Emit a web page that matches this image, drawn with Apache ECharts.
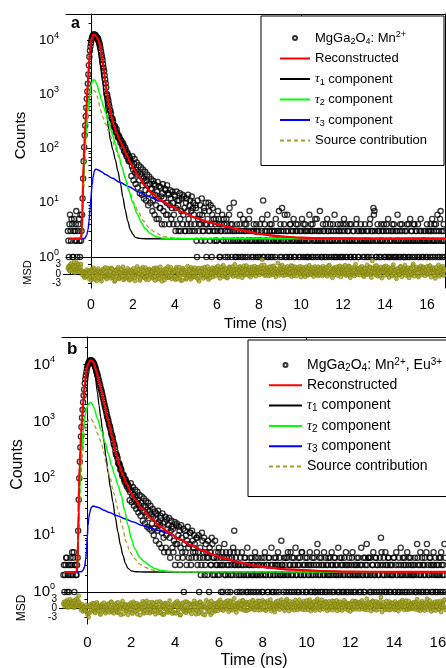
<!DOCTYPE html>
<html>
<head>
<meta charset="utf-8">
<script src="https://cdn.jsdelivr.net/npm/echarts@6/dist/echarts.min.js"></script>
<style>html,body{margin:0;padding:0;background:#fff;}#c{width:446px;height:668px;}</style>
</head>
<body>
<div id="c"></div>
<script>
// ---------------- DATA ----------------
// time channels of the decay histograms (ns)
const timeStartNs = -1.1;
const timeStepNs = 0.025;

const xTickLabels = [0, 2, 4, 6, 8, 10, 12, 14, 16];
const xTickMarks = [-1, 0, 1, 2, 3, 4, 5, 6, 7, 8, 9, 10, 11, 12, 13, 14, 15, 16];
const xTopTicks = [0, 10];
const yTickValues = [1, 10, 100, 1000, 10000];
const yMinorTicks = [2,3,4,5,6,7,8,9,20,30,40,50,60,70,80,90,200,300,400,500,600,700,800,900,2000,3000,4000,5000,6000,7000,8000,9000,20000];
const msdTicks = [-3, 0, 3];

const namesA = ['MgGa2O4: Mn2+', 'Reconstructed', 'τ1 component', 'τ2 component', 'τ3 component', 'Source contribution'];
const namesB = ['MgGa2O4: Mn2+, Eu3+', 'Reconstructed', 'τ1 component', 'τ2 component', 'τ3 component', 'Source contribution'];

// panel a: measured counts per channel (one row = 1 ns)
const countsA = [
  3,2,1,4,6,3,2,5,4,1,1,3,5,2,3,4,7,2,1,3,4,5,2,1,6,2,3,6,12,28,58,105,175,265,390,560,820,1120,1550,2300,
  3400,4870,6300,7520,8700,9960,10900,11640,12200,12580,12600,12390,12300,11960,11400,11080,10900,10560,10100,9240,8700,7950,7100,6160,5350,4790,4250,3570,3050,2680,2230,1860,1590,1320,1010,950,830,760,655,590,
  508,489,446,371,352,348,318,268,249,262,241,205,197,226,192,168,158,171,163,149,128,141,137,119,106,125,114,92,86,104,94,77,71,85,79,63,58,70,66,57,
  58,31,47,72,41,26,52,64,36,22,40,55,33,19,37,49,26,15,34,45,30,14,21,41,28,12,25,37,17,11,26,33,21,9,15,30,22,10,18,27,
  18,7,11,25,22,6,14,21,9,5,16,24,12,5,20,8,8,19,13,4,15,22,7,12,4,18,17,6,10,21,6,15,14,4,9,17,12,5,8,16,
  10,4,6,14,13,3,8,16,4,11,9,3,11,15,5,3,7,12,14,4,6,13,8,3,3,10,12,4,7,14,5,3,9,11,4,7,13,3,8,10,
  6,4,3,9,8,2,1,11,5,3,4,6,9,4,2,12,6,3,3,8,7,2,4,10,1,4,5,3,10,7,3,2,9,4,1,6,8,3,5,2,
  3,4,5,2,2,3,7,5,4,1,1,3,3,4,6,2,2,5,4,3,1,2,5,4,3,1,2,6,8,3,4,2,1,4,3,2,10,3,2,1,
  1,3,4,2,2,1,3,4,6,2,1,3,2,1,5,2,3,4,1,3,4,2,2,1,3,5,7,2,2,3,1,2,3,1,4,3,2,2,1,4,
  3,2,1,3,2,1,4,2,2,3,5,1,11,2,1,4,3,2,2,3,6,1,1,2,3,4,2,1,4,3,1,2,2,3,3,1,5,2,2,3,
  2,3,7,2,1,4,3,1,8,2,2,3,4,6,1,2,3,1,6,3,2,2,1,4,4,1,3,2,2,3,5,1,1,2,3,4,2,3,4,2,
  1,2,3,1,2,3,5,2,1,4,2,3,4,1,3,2,1,3,2,1,6,2,3,4,1,3,4,1,2,2,3,5,1,2,5,3,2,1,3,2,
  7,3,2,1,1,2,4,3,3,1,2,4,1,2,5,3,3,1,2,2,4,3,1,2,2,4,3,1,6,2,1,3,2,1,4,2,3,3,1,4,
  2,1,3,2,1,4,5,3,2,1,4,2,1,3,3,2,2,4,1,1,4,2,2,3,3,1,1,2,2,4,5,2,3,1,1,3,2,2,4,3,
  3,2,1,3,2,1,4,2,2,3,1,2,3,1,2,4,5,2,1,3,3,2,8,6,7,3,2,1,1,2,4,3,3,1,2,2,1,4,3,2,
  2,3,4,1,1,2,3,4,2,1,5,3,1,2,2,1,3,2,4,3,1,4,2,1,3,2,1,3,6,2,2,1,3,4,1,2,4,3,2,1,
  1,2,3,1,2,3,4,2,1,4,2,1,5,2,3,3,1,2,2,4,4,1,2,3,3,2,1,4,2,1,3,2,5,3,1,2,2,1,3,2,
  2,3,1,2,4,1,3,2,2,3,1,4,3,2,5,1,2,3,4,2,1,4,3,2,6,1,2,3,1,5,7,2,3,1,2,3,4,2,1,3,
  2
];
// panel a: weighted residuals (MSD), same channels
const msdA = [
  1.8,2.3,2.6,1.1,0.9,3.0,3.4,1.6,1.2,2.7,2.1,0.6,3.9,2.4,0.5,1.3,2.8,3.5,1.5,0.9,3.1,2.0,0.7,1.7,2.3,3.2,1.1,0.4,-0.4,0.6,0.8,-0.9,-1.2,0.5,0.3,-0.7,1.4,0.2,-0.6,1.0,
  -1.5,0.7,0.2,-1.0,-2.1,1.5,0.9,-0.3,-0.7,2.0,1.3,-1.4,-1.8,0.6,0.4,-2.2,-0.2,1.1,1.7,-0.5,-1.1,0.3,0.6,-1.7,-2.3,0.9,0.1,1.6,1.2,-0.8,-0.9,2.1,0.5,-1.2,-1.6,0.0,1.9,-0.6,-0.3,1.4,
  0.8,-0.5,-1.4,1.9,1.6,-1.1,-0.5,0.2,0.3,-2.4,-2.0,1.3,1.1,-0.1,-0.8,1.7,2.2,-1.6,-1.3,0.5,0.4,-0.3,1.5,-1.0,-0.6,2.3,-1.9,0.8,0.9,-1.5,0.2,1.0,-1.1,-0.7,1.8,0.4,-0.4,-2.0,0.7,1.2,
  -1.7,0.3,1.3,-0.9,-0.2,1.8,0.6,-1.3,-2.2,0.7,1.0,-0.4,2.4,0.1,-0.9,1.4,0.1,-2.1,-1.5,0.9,1.7,-0.6,-0.3,2.2,0.8,-1.1,-1.2,0.4,2.0,-1.8,-0.7,1.2,0.5,-0.5,-1.8,1.6,1.2,-0.2,-0.1,0.8,
  0.9,-1.3,-1.0,1.5,1.9,-0.7,-2.1,0.4,0.3,2.0,1.4,-1.6,-0.6,0.8,-1.4,-0.2,2.3,1.1,0.2,-2.3,-0.8,0.5,1.1,-1.0,-1.9,1.7,0.6,0.1,1.6,-1.2,-0.4,2.4,-1.2,-0.8,0.7,1.3,2.1,-0.5,-1.6,0.6,
  0.4,-1.1,1.2,0.7,-0.9,-1.8,1.8,2.2,-1.5,0.3,0.0,-0.6,2.2,1.0,-0.7,-2.1,0.9,0.4,-2.0,1.9,1.4,-0.3,-0.2,1.2,0.6,-1.7,-1.3,0.8,2.5,0.0,-0.5,1.5,1.0,-0.9,-1.7,2.1,0.3,-1.1,1.6,0.5,
  -0.8,1.3,2.0,-0.4,-1.1,0.8,0.5,-1.6,1.3,1.9,-2.3,0.2,0.8,-0.9,-0.3,1.7,1.9,0.6,-1.4,-0.2,0.2,2.2,1.1,-1.0,-0.6,0.9,2.4,-0.5,-1.8,1.4,0.7,-1.2,-0.1,0.3,1.5,2.0,-1.0,-0.3,0.4,1.1,
  1.7,0.8,-0.6,2.1,0.8,1.5,2.6,-0.2,-0.4,1.2,-1.4,0.9,1.5,2.3,1.1,-0.6,2.8,0.4,1.3,-0.9,0.1,1.9,1.4,-1.2,-1.3,0.7,0.6,2.0,2.3,-0.1,1.8,0.5,-0.2,1.6,2.4,-0.8,0.9,1.3,3.1,0.2,
  -0.5,1.6,1.6,0.2,-0.9,2.2,1.3,0.8,2.4,-0.3,0.5,1.9,-1.2,0.7,1.8,2.6,1.1,-0.4,-0.1,1.4,2.7,0.3,0.2,1.7,1.3,-0.6,2.2,1.0,-1.0,0.4,0.9,2.3,1.5,-0.2,0.4,1.6,2.5,0.1,-0.7,1.2,
  0.7,2.1,0.4,1.5,2.2,-0.3,1.2,0.6,1.9,2.8,4.6,0.1,0.8,1.7,2.9,-0.5,1.2,0.4,-0.4,1.9,2.0,0.8,-0.6,1.3,2.3,1.1,-0.4,0.6,1.5,2.5,0.7,-0.2,2.6,1.3,0.2,1.8,-0.9,0.9,1.6,0.3,
  3.5,1.0,0.2,-0.4,1.7,2.5,0.4,1.2,2.9,0.6,-0.5,1.4,1.3,2.2,-0.4,0.8,0.9,1.9,2.4,-0.2,0.7,1.5,-0.2,0.3,1.8,2.7,-0.8,0.9,2.5,1.1,0.4,-0.5,1.6,2.3,0.2,0.9,-0.6,1.7,2.1,0.5,
  0.3,1.6,2.5,0.1,-1.0,1.3,0.9,2.2,1.5,-0.3,0.1,1.8,-0.9,0.5,2.3,1.2,0.8,-0.4,-0.3,2.0,2.8,0.6,0.0,1.4,1.5,-0.2,2.1,0.9,-0.8,1.7,0.6,2.4,0.4,-0.1,1.7,1.0,-0.6,2.3,1.2,0.3,
  -0.4,1.9,1.6,0.4,0.8,-0.6,2.5,1.2,0.5,1.8,1.5,-0.3,0.1,2.2,-0.7,0.9,1.1,2.7,2.8,0.2,0.3,-0.4,1.0,1.6,-1.2,0.5,1.7,2.0,1.4,-0.2,0.3,1.8,2.3,0.7,-0.5,1.2,0.6,2.4,2.6,0.1,
  -0.9,1.2,1.4,0.3,1.7,2.3,-0.1,0.8,2.8,0.2,-0.5,1.5,1.2,-0.2,0.4,2.6,2.4,-0.4,-1.2,1.0,1.6,0.7,2.0,-0.3,0.9,1.4,-0.6,2.2,3.1,0.1,0.5,1.8,-0.2,1.3,1.7,0.4,-0.3,2.1,1.3,0.6,
  2.5,0.8,0.5,-0.6,-0.9,1.9,1.7,0.3,0.8,-0.2,2.9,1.4,-0.1,0.9,1.2,2.3,2.1,-0.2,-1.1,0.7,4.2,1.6,1.9,0.2,0.6,2.6,1.5,-0.4,2.7,1.1,-0.7,0.9,1.5,2.0,0.3,-0.6,2.2,0.8,-1.3,1.4,
  1.1,0.6,1.9,2.4,-0.4,0.9,2.6,1.2,0.1,-0.3,1.5,2.1,-1.1,0.8,0.7,1.7,1.3,-0.4,-0.6,2.3,3.0,0.9,0.2,1.4,1.2,-0.5,-1.5,1.6,1.7,0.4,0.9,-0.2,-0.3,2.4,2.4,1.0,-0.9,1.2,1.4,0.5,
  0.3,1.8,2.8,0.6,-0.5,1.5,1.3,0.2,2.0,-0.4,-1.2,1.3,0.8,1.9,1.6,-0.3,-0.1,2.7,3.2,0.4,-0.7,1.1,1.1,0.2,2.2,1.6,0.4,-0.6,-1.0,1.5,1.5,2.2,2.6,0.7,-0.3,1.0,1.0,2.3,1.9,0.6,
  -0.6,1.3,1.2,0.4,2.4,-0.2,0.1,1.7,0.9,2.6,2.7,0.3,-1.0,1.4,1.7,0.8,0.3,2.0,1.4,-0.5,-1.4,1.1,2.1,0.7,0.6,-0.3,2.9,1.5,-0.7,0.9,1.3,2.2,0.1,-0.2,2.5,0.9,-0.5,1.6,1.0,0.3,
  1.2
];
// panel a: fitted curves [time ns, counts]
const reconA = [[-1.05,2.17],[-0.6,2.17],[-0.47,2.2],[-0.44,3],[-0.41,7],[-0.38,22],[-0.35,55],[-0.32,110],[-0.27,280],[-0.21,650],[-0.15,1600],[-0.1,3300],[-0.05,6200],[0,8800],[0.06,11300],[0.12,12500],[0.18,12400],[0.26,11400],[0.37,9700],[0.45,7300],[0.52,5000],[0.6,3100],[0.68,1800],[0.76,1050],[0.86,620],[0.98,380],[1.1,260],[1.22,195],[1.38,140],[1.54,103],[1.7,76],[1.86,56],[2.05,41],[2.27,30.5],[2.55,21],[2.9,15],[3.3,11.3],[3.86,8.5],[4.4,6.6],[4.97,5.3],[5.5,4.5],[6.08,3.95],[6.6,3.5],[7.19,3.1],[8,2.65],[9,2.4],[10,2.27],[11,2.21],[12.5,2.18],[14,2.17],[17,2.17]];
const tau1A = [[-1.05,2.17],[-0.6,2.17],[-0.47,2.2],[-0.44,3],[-0.41,6.5],[-0.38,20],[-0.35,48],[-0.32,95],[-0.27,240],[-0.21,560],[-0.15,1350],[-0.1,2800],[-0.05,5300],[0,7600],[0.06,9600],[0.12,10500],[0.18,10300],[0.26,9000],[0.35,6300],[0.45,3300],[0.55,1700],[0.65,850],[0.75,420],[0.84,230],[0.92,145],[1.04,95],[1.16,62],[1.28,38],[1.4,23],[1.52,12.5],[1.63,7.4],[1.75,4.6],[1.87,3.2],[2,2.6],[2.11,2.3],[2.3,2.2],[2.6,2.17],[17,2.17]];
const tau2A = [[-1.05,2.17],[-0.6,2.17],[-0.47,2.2],[-0.44,2.8],[-0.41,5],[-0.38,12],[-0.35,28],[-0.3,75],[-0.24,190],[-0.16,460],[-0.08,900],[0,1400],[0.07,1750],[0.13,1850],[0.2,1780],[0.3,1450],[0.4,1050],[0.5,780],[0.6,590],[0.7,450],[0.82,320],[0.95,220],[1.05,165],[1.16,120],[1.3,80],[1.48,46],[1.62,29],[1.79,17],[2,10],[2.19,6.3],[2.4,4.3],[2.59,3.3],[2.8,2.75],[3.06,2.4],[3.35,2.25],[3.8,2.19],[4.5,2.17],[17,2.17]];
const tau3A = [[-1.05,2.17],[-0.5,2.17],[-0.3,2.2],[-0.2,2.55],[-0.14,3.2],[-0.09,4.6],[-0.04,8],[0,12.5],[0.05,21],[0.1,30],[0.15,37],[0.2,41],[0.26,41.5],[0.35,40],[0.5,37],[0.7,33],[1,28.5],[1.4,23.5],[1.79,19.9],[2.27,15.7],[2.74,13],[3.22,11],[3.9,8.2],[4.5,6.3],[5,5.2],[5.6,4.4],[6.1,3.85],[6.7,3.4],[7.3,3],[8,2.62],[9,2.38],[10,2.25],[11,2.2],[12.5,2.18],[14,2.17],[17,2.17]];
const sourceA = [[-1.05,2.17],[-0.6,2.17],[-0.47,2.2],[-0.44,2.6],[-0.41,4],[-0.38,8],[-0.35,18],[-0.3,50],[-0.24,130],[-0.16,330],[-0.08,650],[0,930],[0.08,1110],[0.16,1170],[0.24,1080],[0.33,830],[0.43,560],[0.55,390],[0.7,280],[0.85,205],[1,150],[1.15,105],[1.3,72],[1.5,42],[1.7,24],[1.87,15],[2.05,9.8],[2.27,6.6],[2.5,4.6],[2.75,3.5],[3.05,2.85],[3.38,2.45],[3.7,2.3],[4.1,2.22],[4.8,2.18],[17,2.17]];

// panel b: measured counts per channel (one row = 1 ns)
const countsB = [
  2,3,1,2,3,4,4,1,2,3,1,2,3,4,2,3,5,2,4,5,1,3,3,2,2,3,4,12,42,100,195,350,545,800,1160,1600,2180,2850,3650,4700,
  5560,6480,7420,8530,9480,10180,10750,11270,11500,11820,11950,11880,11650,11360,11150,10720,10250,9630,9050,8420,7750,7180,6750,6170,5580,5130,4720,4320,3880,3590,3320,2990,2690,2460,2210,1990,1790,1660,1510,1350,
  1205,1131,1048,926,847,806,733,648,589,563,514,447,398,389,349,296,266,263,241,222,187,178,183,168,141,149,139,118,109,116,113,95,86,97,92,78,72,81,76,64,
  68,41,57,82,61,38,48,70,52,33,42,63,47,29,37,58,41,25,34,51,30,22,37,48,27,18,33,44,25,16,31,40,22,14,28,37,20,13,26,33,
  23,12,16,29,21,10,13,26,19,8,24,16,12,27,17,7,15,22,20,6,11,24,16,9,5,17,21,6,10,19,13,5,15,20,9,4,12,18,14,6,
  13,5,8,17,3,7,15,16,7,4,10,14,12,3,6,15,9,5,4,13,1,7,12,5,10,3,8,14,6,4,7,11,11,3,4,12,8,5,6,10,
  7,5,4,9,9,3,5,10,1,4,6,2,3,11,8,4,5,9,2,3,7,5,4,2,8,4,1,6,5,3,3,9,7,2,4,4,2,8,5,3,
  4,3,2,5,6,2,3,4,1,3,5,1,3,4,7,2,2,5,4,3,1,2,3,4,5,1,2,3,4,2,6,5,12,3,3,4,2,1,5,3,
  3,2,1,4,2,3,5,1,3,2,2,4,4,3,1,2,6,1,2,3,3,4,1,2,4,3,2,1,3,2,5,4,1,2,2,3,4,1,3,2,
  2,3,4,1,1,2,3,4,5,2,2,3,3,1,1,4,4,2,2,3,6,1,3,2,1,4,2,3,4,1,3,2,5,3,1,4,2,2,8,3,
  3,2,1,4,2,3,4,1,2,4,5,2,1,3,3,5,2,1,4,2,3,4,1,3,6,2,2,1,3,4,1,3,4,2,2,5,5,1,3,2,
  2,3,4,1,1,4,3,2,2,3,5,1,3,2,1,4,2,3,4,1,1,2,3,5,7,1,2,3,4,2,1,4,3,1,2,3,5,2,1,4,
  3,1,2,3,4,2,1,4,2,3,5,1,3,2,1,4,4,3,2,2,3,1,6,2,1,4,2,3,4,1,3,2,1,4,2,3,5,1,3,2,
  1,3,4,2,2,1,3,4,5,2,1,3,2,1,3,2,4,3,2,4,1,2,3,1,6,3,2,2,4,1,1,4,3,2,7,3,2,4,4,1,
  2,4,1,2,3,3,5,1,2,2,4,4,1,3,3,2,2,1,4,3,9,5,1,2,3,4,2,1,5,3,1,2,3,4,4,1,2,3,1,2,
  3,2,2,4,4,1,1,3,5,2,2,1,3,4,1,2,6,3,2,1,4,2,3,4,1,3,2,1,5,2,3,4,1,2,4,3,2,1,3,2,
  2,3,4,1,1,2,7,4,3,1,2,3,5,2,1,4,3,1,2,3,4,2,1,5,7,1,3,2,2,4,4,3,1,2,3,1,5,3,2,4,
  1,2,3,1,2,3,4,2,1,4,5,3,2,1,3,2,7,4,1,3,4,1,2,2,3,4,1,3,2,1,5,2,3,3,2,1,1,2,4,3,
  2
];
// panel b: weighted residuals (MSD), same channels
const msdB = [
  1.4,2.0,0.6,1.5,2.2,0.8,1.0,2.7,0.3,1.9,1.8,0.5,2.9,1.3,0.8,2.2,1.5,0.4,2.4,1.6,0.2,2.6,1.2,0.7,3.1,1.1,1.7,2.5,4.0,1.9,0.9,0.3,-0.5,0.8,1.3,-0.2,-1.0,0.7,0.4,-0.8,
  -0.8,0.5,1.1,-1.3,-1.9,0.4,-2.9,-1.6,0.5,1.2,-1.2,-0.5,0.9,1.6,-0.4,0.3,1.6,-1.1,-1.5,0.8,0.2,1.9,1.3,-0.6,-0.9,0.1,0.7,-1.8,-2.0,0.6,1.0,1.4,-0.3,-0.7,1.8,0.4,-1.1,-1.6,0.6,1.2,
  -0.2,-0.9,1.5,1.1,-1.3,-0.2,0.4,2.1,2.0,-1.2,-0.7,0.3,-1.6,0.9,1.2,-0.5,0.1,1.7,-0.9,-1.4,1.9,0.6,-1.4,0.1,0.8,-2.1,-0.1,1.4,2.3,-0.3,-1.8,0.5,0.5,1.3,1.0,-0.8,-0.6,0.2,-2.1,0.9,
  1.3,-0.6,-0.4,1.8,0.9,-1.3,-1.7,0.4,2.1,1.5,0.2,-0.8,-1.0,0.6,1.6,-1.9,-0.5,1.1,0.7,-0.3,-2.2,0.9,1.4,-0.1,0.3,2.3,-1.2,-1.6,1.8,0.5,-0.8,1.0,2.4,-1.4,-0.3,0.8,0.6,1.9,-1.5,-0.2,
  0.8,-1.1,2.0,0.5,-1.1,1.6,0.4,-0.7,-1.9,0.9,1.2,2.1,0.0,-1.5,-0.7,0.3,2.2,-0.4,-1.4,1.7,1.0,-2.0,0.5,0.8,-2.0,-0.2,1.7,1.3,-0.2,-1.2,0.9,1.5,-1.3,0.2,2.5,-0.9,-0.6,1.1,0.3,-1.7,
  -1.0,0.7,1.4,-1.5,0.7,1.9,-1.6,0.4,2.3,-0.8,-0.5,1.6,1.1,-2.2,-2.1,0.6,0.2,1.3,1.8,-0.4,-0.9,-1.1,0.6,2.2,-1.4,0.1,2.0,-0.8,0.1,1.5,-0.7,-1.0,1.5,0.4,-1.8,1.2,0.9,-0.6,1.3,2.4,
  -0.4,1.5,-1.9,-0.6,1.7,0.9,0.3,-1.7,-1.2,2.0,2.1,-0.3,-0.6,1.1,0.8,-1.9,1.4,0.5,-2.2,0.3,0.5,2.6,-0.1,-1.1,1.9,0.2,-1.0,1.3,0.6,-2.1,2.4,0.8,-1.5,-0.4,0.2,1.6,1.1,-0.9,-0.8,0.7,
  1.6,0.4,-0.8,2.1,0.9,1.5,2.7,-0.3,0.3,1.9,0.6,-0.4,-0.7,1.3,1.8,0.2,0.7,2.2,-0.2,0.8,2.5,1.2,-1.1,0.6,1.4,2.4,1.8,-0.5,0.4,1.0,-0.6,1.9,3.2,0.5,0.9,-0.3,-1.3,1.4,1.7,0.2,
  0.2,1.6,2.2,-0.2,-0.3,1.4,1.0,2.5,2.5,-0.6,0.8,0.3,1.7,-0.8,1.1,2.0,-0.7,1.5,1.3,-0.4,2.1,0.9,-0.1,0.6,0.8,2.3,2.6,0.1,-0.5,1.2,-0.4,1.7,1.6,0.3,0.7,2.4,-0.6,0.8,2.3,1.1,
  -0.5,1.3,1.2,0.1,2.6,-0.3,0.5,2.1,1.9,-0.6,-0.7,1.4,0.6,2.3,1.7,-0.2,0.7,1.8,2.8,0.0,-0.9,1.6,1.2,0.3,0.8,-0.5,-1.2,1.1,1.7,2.2,0.6,-0.1,2.4,1.0,0.9,-0.4,0.8,2.0,2.8,0.4,
  0.2,1.8,1.9,-0.1,-0.8,1.2,1.6,2.5,2.9,0.1,0.3,1.3,-0.9,1.0,2.2,0.6,1.4,-0.3,0.3,2.1,1.2,0.2,-0.6,1.6,2.6,0.9,0.1,1.9,-0.5,0.6,1.1,2.7,0.7,-0.2,1.8,1.2,0.3,-0.4,1.0,2.3,
  0.6,1.7,-0.5,1.0,2.5,0.3,1.4,-0.4,0.9,2.2,2.8,0.6,-0.9,1.4,1.1,0.2,-0.2,1.9,2.2,-0.1,-0.7,1.3,1.0,2.4,3.0,0.1,-0.3,1.6,1.7,-0.6,0.5,2.1,2.7,0.4,0.7,-0.2,1.6,1.1,0.3,2.2,
  2.0,0.3,-0.8,1.5,0.7,2.2,-0.4,1.0,1.6,0.1,0.6,2.4,-0.6,0.9,2.3,1.3,1.4,-0.1,0.8,2.5,-0.8,0.4,1.4,2.0,0.6,-0.4,2.1,1.1,1.3,-0.7,0.2,1.8,1.1,2.6,0.5,-0.2,1.9,0.7,0.9,1.5,
  -0.6,1.5,1.1,0.3,-1.0,1.8,1.3,0.2,2.4,-0.2,-0.3,1.4,0.5,2.1,2.3,-0.3,1.7,0.6,0.4,1.9,1.5,-0.4,2.0,1.1,0.8,2.5,-0.2,0.5,1.8,1.2,0.8,-0.5,0.1,1.6,3.1,0.8,-0.5,1.3,0.4,2.0,
  1.5,0.2,-0.9,1.8,0.9,2.4,2.1,-0.3,-0.2,1.3,0.7,2.2,-0.6,0.4,1.8,1.0,-0.3,1.5,0.6,2.3,3.6,0.8,-1.2,0.6,1.0,1.9,0.4,-0.2,-0.5,1.4,2.3,0.5,0.7,-0.4,1.3,2.2,-0.6,1.1,0.7,1.8,
  -0.2,1.4,1.7,0.6,0.3,-0.5,2.2,1.1,-0.4,1.5,1.0,0.3,-0.9,1.7,0.6,2.1,1.4,-0.1,0.8,2.6,1.9,0.3,-0.5,1.2,0.5,1.8,2.5,-0.3,-0.4,1.0,0.8,2.3,-0.3,1.2,0.2,1.6,1.2,-0.2,0.5,1.9,
  0.4,1.7,-0.3,1.1,2.0,0.2,2.9,1.4,-0.6,0.8,1.3,-0.1,-0.8,1.9,0.7,2.3,-0.3,0.9,1.6,0.1,-0.7,1.4,0.2,2.0,3.0,0.6,-0.4,1.2,1.1,2.5,0.5,-0.2,-1.0,1.3,1.8,0.4,-0.5,1.5,0.9,2.1,
  -0.7,1.0,0.6,2.2,1.5,-0.3,-0.3,1.8,2.3,0.5,-1.2,1.1,0.2,1.6,1.0,2.4,2.8,0.1,-0.5,1.3,0.8,-0.2,-0.4,1.5,1.7,0.6,-0.9,2.0,0.4,1.1,2.1,0.3,-0.8,1.4,1.2,2.3,-1.0,0.7,0.5,1.6,
  0.9
];
// panel b: fitted curves [time ns, counts]
const reconB = [[-1.05,2.25],[-0.6,2.25],[-0.49,2.3],[-0.46,3],[-0.43,8],[-0.41,25],[-0.39,70],[-0.36,160],[-0.33,300],[-0.29,620],[-0.25,1150],[-0.19,2400],[-0.13,4500],[-0.06,7200],[0,9400],[0.07,11200],[0.13,11900],[0.2,11700],[0.28,10700],[0.4,7800],[0.5,5600],[0.63,3500],[0.78,1950],[0.94,1050],[1.12,560],[1.32,260],[1.47,165],[1.62,112],[1.8,78],[2,54],[2.15,43],[2.5,29],[2.91,19.8],[3.3,14.5],[3.68,11.3],[4.2,8.5],[4.74,6.6],[5.3,5.3],[5.8,4.45],[6.3,3.85],[6.9,3.35],[7.57,2.95],[8.3,2.68],[9.1,2.5],[10.6,2.34],[12.1,2.28],[14,2.26],[17,2.25]];
const tau1B = [[-1.05,2.25],[-0.6,2.25],[-0.49,2.3],[-0.46,3],[-0.43,7],[-0.41,20],[-0.39,55],[-0.36,125],[-0.33,245],[-0.29,500],[-0.25,950],[-0.19,2000],[-0.13,3800],[-0.06,6200],[0,8000],[0.07,9500],[0.13,10000],[0.2,9600],[0.28,8200],[0.36,6000],[0.45,3300],[0.53,1900],[0.6,1200],[0.68,740],[0.75,440],[0.85,230],[0.94,125],[1.05,68],[1.16,38],[1.27,20.5],[1.39,11.4],[1.5,6.8],[1.62,4.4],[1.73,3.2],[1.85,2.6],[2,2.35],[2.2,2.27],[2.6,2.25],[17,2.25]];
const tau2B = [[-1.05,2.25],[-0.6,2.25],[-0.49,2.3],[-0.46,2.8],[-0.43,6],[-0.4,16],[-0.37,40],[-0.33,110],[-0.27,300],[-0.19,700],[-0.1,1300],[0,1850],[0.07,2080],[0.14,2150],[0.22,2020],[0.32,1650],[0.45,1120],[0.63,700],[0.8,430],[0.95,270],[1.1,168],[1.24,113],[1.4,75],[1.54,50],[1.7,27],[1.85,14.9],[2,8.8],[2.15,5.8],[2.38,4.1],[2.61,3.4],[2.85,2.9],[3.07,2.6],[3.35,2.4],[3.8,2.3],[4.5,2.26],[17,2.25]];
const tau3B = [[-1.05,2.25],[-0.5,2.25],[-0.28,2.27],[-0.2,2.45],[-0.13,2.8],[-0.08,3.8],[-0.05,5.1],[-0.01,9],[0.02,14.5],[0.06,20],[0.1,25],[0.17,30.5],[0.25,32.6],[0.35,32],[0.5,30.5],[0.75,27.5],[1,25],[1.35,22],[1.7,19.5],[2.1,17],[2.46,15],[2.85,13.4],[3.2,12.2],[3.6,11],[3.9,10.1],[4.2,8.4],[4.74,6.5],[5.3,5.2],[5.8,4.4],[6.3,3.8],[6.9,3.3],[7.57,2.92],[8.3,2.66],[9.1,2.49],[10.6,2.33],[12.1,2.28],[14,2.26],[17,2.25]];
const sourceB = [[-1.05,2.25],[-0.6,2.25],[-0.49,2.3],[-0.46,2.7],[-0.43,4.5],[-0.4,10],[-0.36,30],[-0.31,90],[-0.25,200],[-0.18,420],[-0.1,700],[-0.02,930],[0.06,1080],[0.16,1110],[0.25,1000],[0.35,820],[0.45,620],[0.55,500],[0.63,410],[0.75,280],[0.88,165],[1.01,110],[1.2,55],[1.39,29],[1.58,14.5],[1.77,7.6],[1.95,5],[2.15,3.86],[2.38,3.1],[2.61,2.75],[2.85,2.52],[3.1,2.4],[3.5,2.3],[4.2,2.26],[17,2.25]];

// ---------------- CHART ----------------
const FONT = '"Liberation Sans", Arial, Helvetica, sans-serif';
const BLACK = '#000';
function toXY(arr) {
  return arr.map(function (v, i) { return [Math.round((timeStartNs + i * timeStepNs) * 1000) / 1000, v]; });
}
const legendText = {
  'MgGa2O4: Mn2+': 'MgGa{sub|2}O{sub|4}: Mn{sup|2+}',
  'MgGa2O4: Mn2+, Eu3+': 'MgGa{sub|2}O{sub|4}: Mn{sup|2+}, Eu{sup|3+}',
  'Reconstructed': 'Reconstructed',
  'τ1 component': '{tau|τ}{sub|1} component',
  'τ2 component': '{tau|τ}{sub|2} component',
  'τ3 component': '{tau|τ}{sub|3} component',
  'Source contribution': 'Source contribution'
};
function legendRich(fs) {
  return {
    sub: { fontSize: Math.round(fs * 0.68), fontFamily: FONT, color: BLACK, verticalAlign: 'bottom', lineHeight: 9 },
    sup: { fontSize: Math.round(fs * 0.68), fontFamily: FONT, color: BLACK, verticalAlign: 'top', lineHeight: 9 },
    tau: { fontSize: fs, fontFamily: '"Liberation Serif", serif', fontStyle: 'italic', color: BLACK, lineHeight: 16 }
  };
}
function legendData(names) {
  return names.map(function (n, i) {
    return i === 0 ? { name: n } : { name: n, itemStyle: { opacity: 0, color: 'rgba(0,0,0,0)', borderWidth: 0 } };
  });
}
function yRich(fs) {
  return {
    b: { fontSize: fs, fontFamily: FONT, color: BLACK, lineHeight: fs + 4 },
    e: { fontSize: 9, fontFamily: FONT, color: BLACK, verticalAlign: 'top', lineHeight: 9 }
  };
}
function expLabel(v) { return '{b|10}{e|' + Math.round(Math.log10(v)) + '}'; }

function panelAxes(p) {
  const line = { show: true, lineStyle: { color: BLACK, width: 1 } };
  const none = { show: false };
  const msdOuter = msdTicks.filter(function (v) { return v !== 0; });
  const msdZero = msdTicks.filter(function (v) { return v === 0; });
  const msdLabel = { show: true, color: BLACK, fontSize: 10, fontFamily: FONT, margin: 5, hideOverlap: false, showMinLabel: true, showMaxLabel: true };
  const xs = [
    { gridIndex: p.g0, type: 'value', min: p.xmin, max: p.xmax, position: 'bottom', axisLine: line, axisTick: none, axisLabel: none, splitLine: none },
    { gridIndex: p.g0, type: 'value', min: p.xmin, max: p.xmax, position: 'top', axisLine: line,
      axisTick: { show: true, inside: true, length: 4, customValues: xTopTicks, lineStyle: { color: BLACK } }, axisLabel: none, splitLine: none },
    { gridIndex: p.g0 + 1, type: 'value', min: p.xmin, max: p.xmax, position: 'bottom', axisLine: line,
      axisTick: { show: true, inside: true, length: 3, customValues: xTickMarks, lineStyle: { color: BLACK } },
      axisLabel: { show: true, customValues: xTickLabels, color: BLACK, fontSize: p.fs, fontFamily: FONT, margin: p.xMargin, hideOverlap: false },
      splitLine: none,
      name: 'Time (ns)', nameLocation: 'middle', nameGap: p.timeGap, nameMoveOverlap: false,
      nameTextStyle: { color: BLACK, fontSize: p.nameFs, fontFamily: FONT } }
  ];
  const ys = [
    { gridIndex: p.g0, type: 'log', logBase: 10, min: 1, max: p.ymax, position: 'left', axisLine: line,
      axisTick: { show: true, inside: false, length: 4, customValues: yTickValues, lineStyle: { color: BLACK } },
      axisLabel: { show: true, customValues: yTickValues, formatter: expLabel, rich: yRich(p.yfs), margin: 7, hideOverlap: false, showMinLabel: true, showMaxLabel: true },
      splitLine: none, minorTick: none,
      name: 'Counts', nameLocation: 'middle', nameGap: p.countsGap, nameMoveOverlap: false,
      nameTextStyle: { color: BLACK, fontSize: p.nameFs, fontFamily: FONT } },
    { gridIndex: p.g0, type: 'log', logBase: 10, min: 1, max: p.ymax, position: 'left', axisLine: none,
      axisTick: { show: true, inside: false, length: 2.5, customValues: yMinorTicks, lineStyle: { color: BLACK } },
      axisLabel: none, splitLine: none },
    { gridIndex: p.g0 + 1, type: 'value', min: p.msdMin, max: p.msdMax, position: 'left', axisLine: line,
      axisTick: { show: true, inside: false, length: 3, customValues: msdOuter, lineStyle: { color: BLACK } },
      axisLabel: Object.assign({ customValues: msdOuter }, msdLabel),
      splitLine: none,
      name: 'MSD', nameLocation: 'middle', nameGap: p.msdGap, nameMoveOverlap: false,
      nameTextStyle: { color: BLACK, fontSize: p.msdFs, fontFamily: FONT } },
    { gridIndex: p.g0 + 1, type: 'value', min: p.msdMin, max: p.msdMax, position: 'left', axisLine: none,
      axisTick: { show: true, inside: false, length: 3, customValues: msdZero, lineStyle: { color: BLACK } },
      axisLabel: Object.assign({ customValues: msdZero }, msdLabel),
      splitLine: none }
  ];
  if (p.rightBorder) {
    ys.push({ gridIndex: p.g0, type: 'log', logBase: 10, min: 1, max: p.ymax, position: 'right', axisLine: line, axisTick: none, axisLabel: none, splitLine: none });
    ys.push({ gridIndex: p.g0 + 1, type: 'value', min: p.msdMin, max: p.msdMax, position: 'right', axisLine: line, axisTick: none, axisLabel: none, splitLine: none });
  }
  return { xs: xs, ys: ys };
}

const axA = panelAxes({ g0: 0, xmin: -1.19, xmax: 16.86, ymax: 29900, msdMin: -4.49, msdMax: 5.45, fs: 14, yfs: 13.5, nameFs: 15, msdFs: 11, countsGap: 38, msdGap: 33, timeGap: 28, xMargin: 10, rightBorder: true });
const axB = panelAxes({ g0: 2, xmin: -1.164, xmax: 16.37, ymax: 30600, msdMin: -5.06, msdMax: 5.26, fs: 15, yfs: 15, nameFs: 16, msdFs: 12, countsGap: 36, msdGap: 34, timeGap: 29, xMargin: 11, rightBorder: false });
// axis index bookkeeping
const yOffsetB = axA.ys.length;
const xOffsetB = axA.xs.length;

function panelSeries(xi, yi, msdXi, msdYi, scatterName, counts, msd, recon, t1, t2, t3, src, tag) {
  const lineBase = { type: 'line', xAxisIndex: xi, yAxisIndex: yi, symbol: 'none', smooth: 0.3, smoothMonotone: 'x', silent: true };
  return [
    { type: 'scatter', name: scatterName, xAxisIndex: xi, yAxisIndex: yi, data: toXY(counts), symbol: 'circle', symbolSize: 5.2,
      itemStyle: { color: 'rgba(255,255,255,0)', borderColor: BLACK, borderWidth: 1.3 }, silent: true, z: 2 },
    Object.assign({}, lineBase, { name: 'τ1 component', data: t1, lineStyle: { color: BLACK, width: 1.3 }, itemStyle: { color: BLACK }, z: 3 }),
    Object.assign({}, lineBase, { name: 'τ3 component', data: t3, lineStyle: { color: '#0000ff', width: 1.5 }, itemStyle: { color: '#0000ff' }, z: 3 }),
    Object.assign({}, lineBase, { name: 'Source contribution', data: src, lineStyle: { color: '#a0a030', width: 1.3, type: [4, 3] }, itemStyle: { color: '#a0a030' }, z: 3 }),
    Object.assign({}, lineBase, { name: 'τ2 component', data: t2, lineStyle: { color: '#00ff00', width: 1.5 }, itemStyle: { color: '#00ff00' }, z: 3 }),
    Object.assign({}, lineBase, { name: 'Reconstructed', data: recon, lineStyle: { color: '#ff0000', width: 2.2 }, itemStyle: { color: '#ff0000' }, z: 4 }),
    { type: 'scatter', name: 'MSD ' + tag, xAxisIndex: msdXi, yAxisIndex: msdYi, data: toXY(msd), symbol: 'circle', symbolSize: 4,
      itemStyle: { color: '#a8a830', borderColor: '#7c7c00', borderWidth: 0.8 }, silent: true, z: 2 }
  ];
}

const chart = echarts.init(document.getElementById('c'), null, { renderer: 'canvas', width: 446, height: 668 });
const option = {
  animation: false,
  backgroundColor: '#fff',
  textStyle: { fontFamily: FONT },
  grid: [
    { left: 66, top: 14, width: 379, height: 243, containLabel: false, outerBoundsMode: 'none' },
    { left: 66, top: 257, width: 379, height: 31, containLabel: false, outerBoundsMode: 'none' },
    { left: 62, top: 337, width: 384, height: 255, containLabel: false, outerBoundsMode: 'none' },
    { left: 62, top: 592, width: 384, height: 32, containLabel: false, outerBoundsMode: 'none' }
  ],
  xAxis: axA.xs.concat(axB.xs),
  yAxis: axA.ys.concat(axB.ys),
  legend: [
    { orient: 'vertical', left: 261, top: 16, padding: [14, 17, 17, 18], itemWidth: 30, itemHeight: 4, itemGap: 4.5,
      borderColor: BLACK, borderWidth: 1, backgroundColor: '#fff', selectedMode: false, data: legendData(namesA),
      formatter: function (n) { return legendText[n]; },
      textStyle: { fontSize: 13, fontFamily: FONT, color: BLACK, lineHeight: 16, rich: legendRich(13) } },
    { orient: 'vertical', left: 248, top: 340, padding: [17, 6, 22, 20], itemWidth: 33, itemHeight: 4, itemGap: 4.3,
      borderColor: BLACK, borderWidth: 1, backgroundColor: '#fff', selectedMode: false, data: legendData(namesB),
      formatter: function (n) { return legendText[n]; },
      textStyle: { fontSize: 14, fontFamily: FONT, color: BLACK, lineHeight: 16, rich: legendRich(14) } }
  ],
  graphic: [
    { type: 'text', x: 71, y: 23.5, style: { text: 'a', fontSize: 16, fontWeight: 'bold', fontFamily: FONT, fill: BLACK, verticalAlign: 'middle', align: 'left' } },
    { type: 'text', x: 67, y: 349, style: { text: 'b', fontSize: 17, fontWeight: 'bold', fontFamily: FONT, fill: BLACK, verticalAlign: 'middle', align: 'left' } }
  ],
  series: panelSeries(0, 0, 2, 2, namesA[0], countsA, msdA, reconA, tau1A, tau2A, tau3A, sourceA, 'a')
    .concat(panelSeries(xOffsetB, yOffsetB, xOffsetB + 2, yOffsetB + 2, namesB[0], countsB, msdB, reconB, tau1B, tau2B, tau3B, sourceB, 'b'))
};
chart.setOption(option);
</script>
</body>
</html>
